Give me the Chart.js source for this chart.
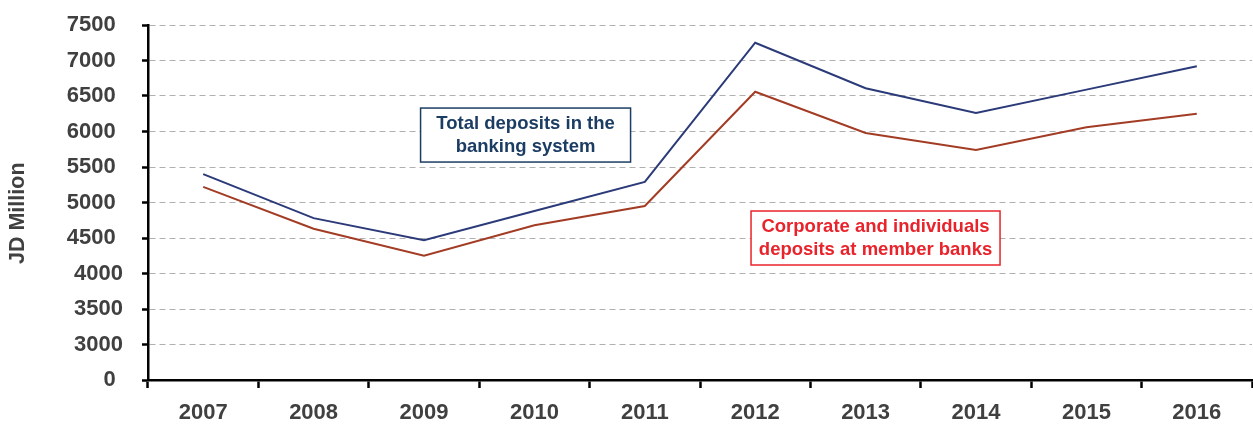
<!DOCTYPE html>
<html><head><meta charset="utf-8">
<script src="https://cdn.jsdelivr.net/npm/chart.js@4/dist/chart.umd.min.js"></script>
<style>html,body{margin:0;padding:0;background:#fff;overflow:hidden}</style>
</head><body>
<canvas id="c" width="1253" height="425"></canvas>
<script>
const years = ['2007','2008','2009','2010','2011','2012','2013','2014','2015','2016'];
const totalDeposits = [5400, 4780, 4470, 4880, 5290, 7250, 6610, 6260, 6590, 6920];
const corporateDeposits = [5220, 4630, 4250, 4680, 4950, 6560, 5980, 5740, 6060, 6250];
const yTickValues = [2500, 3000, 3500, 4000, 4500, 5000, 5500, 6000, 6500, 7000, 7500];
const yTickLabels = ['0', '3000', '3500', '4000', '4500', '5000', '5500', '6000', '6500', '7000', '7500'];
const seriesNames = ['Total deposits in the banking system', 'Corporate and individuals deposits at member banks'];
const noteLines = [['Total deposits in the', 'banking system'], ['Corporate and individuals', 'deposits at member banks']];
const noteAnchors = [[2.92, 5950], [6.09, 4500]];

const FONT = "'Liberation Sans', Arial, Helvetica, sans-serif";
const noteStyles = [
  {w: 210, h: 54, color: '#1c3d63', border: '#1c3d63'},
  {w: 249, h: 54, color: '#e8232b', border: '#e8232b'}
];

const notesPlugin = {
  id: 'notes',
  afterDatasetsDraw(chart) {
    const {ctx, scales: {x, y}} = chart;
    noteLines.forEach((lines, i) => {
      const st = noteStyles[i];
      const cx = x.getPixelForValue(noteAnchors[i][0]);
      const cy = y.getPixelForValue(noteAnchors[i][1]);
      ctx.save();
      ctx.fillStyle = '#fff';
      ctx.fillRect(cx - st.w / 2, cy - st.h / 2, st.w, st.h);
      ctx.strokeStyle = st.border;
      ctx.lineWidth = 1.5;
      ctx.strokeRect(cx - st.w / 2, cy - st.h / 2, st.w, st.h);
      ctx.fillStyle = st.color;
      ctx.font = "bold 18.5px " + FONT;
      ctx.textAlign = 'center';
      ctx.textBaseline = 'middle';
      ctx.fillText(lines[0], cx, cy - 11.5);
      ctx.fillText(lines[1], cx, cy + 11.5);
      ctx.restore();
    });
  }
};

new Chart(document.getElementById('c'), {
  type: 'line',
  data: {
    labels: years,
    datasets: [
      {label: seriesNames[0], data: totalDeposits, borderColor: '#2b3a78', borderWidth: 2, pointRadius: 0, tension: 0, fill: false},
      {label: seriesNames[1], data: corporateDeposits, borderColor: '#a33c24', borderWidth: 2, pointRadius: 0, tension: 0, fill: false}
    ]
  },
  options: {
    responsive: false,
    devicePixelRatio: 1,
    animation: false,
    layout: {padding: {top: 25, right: 1, left: 0, bottom: 0}},
    plugins: {legend: {display: false}, tooltip: {enabled: false}},
    scales: {
      x: {
        type: 'category',
        offset: true,
        afterFit(scale) { scale.height = 45; },
        grid: {offset: true, drawOnChartArea: false, drawTicks: true, tickLength: 8, tickColor: '#000', tickWidth: 2.5},
        border: {display: true, color: '#000', width: 2.5},
        ticks: {color: '#404040', font: {family: FONT, size: 22, weight: 'bold'}, padding: 12, maxRotation: 0, autoSkip: false}
      },
      y: {
        type: 'linear',
        min: 2500,
        max: 7500,
        afterFit(scale) { scale.width = 148; scale.paddingTop = 0; scale.paddingBottom = 0; },
        afterBuildTicks(scale) { scale.ticks = yTickValues.map(v => ({value: v})); },
        title: {display: true, text: 'JD Million\u2002\u2002', color: '#404040', font: {family: FONT, size: 21.5, weight: 'bold'}, padding: {top: 5, bottom: 0}},
        grid: {
          color: (c) => (c.tick && c.tick.value === 2500) ? 'rgba(0,0,0,0)' : '#b0b0b0',
          lineWidth: 1,
          drawTicks: true,
          tickLength: 6,
          tickColor: '#000',
          tickWidth: 2.5,
          tickBorderDash: []
        },
        border: {display: true, color: '#000', width: 2.5, dash: [6, 4]},
        ticks: {
          color: '#404040',
          font: {family: FONT, size: 22, weight: 'bold'},
          padding: 19,
          callback: (v) => {
            const i = yTickValues.indexOf(v);
            const t = i >= 0 ? yTickLabels[i] : '';
            return (v >= 3000 && v <= 4000) ? t : t + '\u2004';
          }
        }
      }
    }
  },
  plugins: [notesPlugin]
});
</script>
</body></html>
